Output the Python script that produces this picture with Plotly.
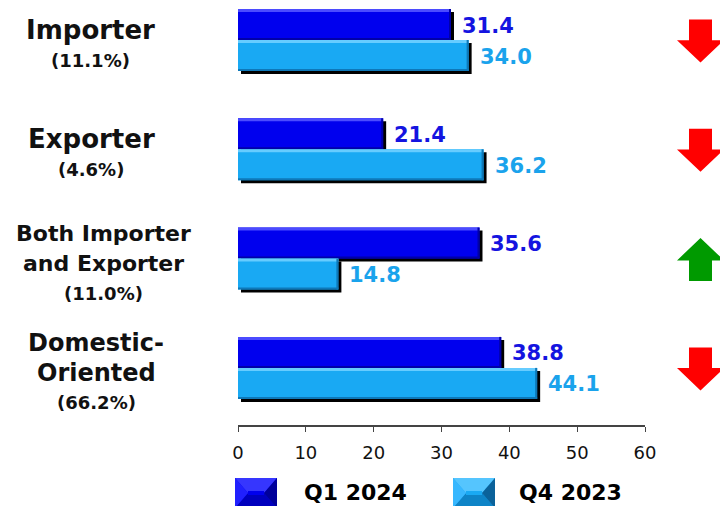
import plotly.graph_objects as go

# ---- data -------------------------------------------------------------
categories = ["Importer", "Exporter", "Both Importer and Exporter", "Domestic-Oriented"]
name_lines = [["Importer"], ["Exporter"], ["Both Importer", "and Exporter"], ["Domestic-", "Oriented"]]
shares = ["11.1%", "4.6%", "11.0%", "66.2%"]
q1_2024 = [31.4, 21.4, 35.6, 38.8]
q4_2023 = [34.0, 36.2, 14.8, 44.1]
series_names = ["Q1 2024", "Q4 2023"]
x_ticks = [0, 10, 20, 30, 40, 50, 60]

# ---- layout constants ---------------------------------------------------
W, H = 720, 506
PL, PR, PT, PB = 238, 645, 0, 425          # plot area in pixels
PPU = 109.3                                # pixels per category step
Y_TOP = -40 / PPU                          # first category sits 40 px below top
Y_BOT = Y_TOP + (PB - PT) / PPU
X_MAX = 60
XPPU = (PR - PL) / X_MAX                   # pixels per value unit
BAR_W = 31 / PPU
SHADOW_X = 3 / XPPU
SHADOW_Y = 3 / PPU
FONT = "DejaVu Sans"

styles = [
    dict(face="#0000EE", light="#4B4BFF", dark="#0000A8", label="#1414E0",
         tl="#3C3CFF", ll="#2424FF", rr="#000090", bb="#0000B8"),
    dict(face="#19A9F3", light="#66CCFF", dark="#0E78B8", label="#1AA3EC",
         tl="#5CC8FF", ll="#3BB8FF", rr="#0A5A90", bb="#0D80C2"),
]
offsets = [-BAR_W, 0.0]
values = [q1_2024, q4_2023]
idx = list(range(len(categories)))


def xp(px):
    return (px - PL) / (PR - PL)


def yp(py):
    return (PB - py) / (PB - PT)


def cat_px(i):
    return PT + (i - Y_TOP) * PPU


fig = go.Figure()

# drop shadows first, so the faces sit on top of them
for vals, off in zip(values, offsets):
    fig.add_trace(go.Bar(
        x=vals, y=idx, base=SHADOW_X, orientation="h", width=BAR_W,
        offset=off + SHADOW_Y, marker=dict(color="#000000", line=dict(width=0)),
        hoverinfo="skip", showlegend=False))

# bar faces with a bevelled edge
for vals, off, st, nm in zip(values, offsets, styles, series_names):
    fig.add_trace(go.Bar(
        x=vals, y=idx, orientation="h", width=BAR_W, offset=off, name=nm,
        marker=dict(color=st["face"], line=dict(width=0)), showlegend=False))
    fig.add_trace(go.Bar(
        x=vals, y=idx, orientation="h", width=3 / PPU, offset=off,
        marker=dict(color=st["light"], line=dict(width=0)),
        hoverinfo="skip", showlegend=False))
    fig.add_trace(go.Bar(
        x=vals, y=idx, orientation="h", width=2 / PPU, offset=off + BAR_W - 2 / PPU,
        marker=dict(color=st["dark"], line=dict(width=0)),
        hoverinfo="skip", showlegend=False))
    fig.add_trace(go.Bar(
        x=[2 / XPPU] * len(vals), y=idx, base=[v - 2 / XPPU for v in vals],
        orientation="h", width=BAR_W, offset=off,
        marker=dict(color=st["dark"], line=dict(width=0)),
        hoverinfo="skip", showlegend=False))

annotations = []
shapes = []

# value labels
for vals, off, st in zip(values, offsets, styles):
    for i, v in zip(idx, vals):
        annotations.append(dict(
            x=v, y=i + off + BAR_W / 2, xref="x", yref="y",
            text=f"<b>{v:.1f}</b>", showarrow=False, xanchor="left",
            yanchor="middle", xshift=9, yshift=-1,
            font=dict(family=FONT, size=21, color=st["label"])))

# category labels on the left
label_cx = [90, 91, 103, 96]
name_size = [26, 26, 22, 24]
for i in idx:
    lines = [(t, name_size[i]) for t in name_lines[i]] + [(f"({shares[i]})", 18)]
    k = len(lines)
    for j, (txt, sz) in enumerate(lines):
        dy = 5 + (j - (k - 1) / 2) * 30
        annotations.append(dict(
            x=xp(label_cx[i]), y=i, xref="paper", yref="y", text=f"<b>{txt}</b>",
            showarrow=False, xanchor="center", yanchor="middle", yshift=-dy,
            font=dict(family=FONT, size=sz, color="#111111")))

# change arrows on the right: up when Q1 2024 beats Q4 2023
AX = 700.5
for i in idx:
    cy = cat_px(i) + 1
    up = q1_2024[i] > q4_2023[i]
    s = -1 if up else 1
    pts = [
        (AX - 11.5, cy - s * 21.5), (AX + 11.5, cy - s * 21.5),
        (AX + 11.5, cy - s * 0.8), (AX + 23.5, cy - s * 0.8),
        (AX, cy + s * 21.5), (AX - 23.5, cy - s * 0.8),
        (AX - 11.5, cy - s * 0.8),
    ]
    path = "M " + " L ".join(f"{xp(x):.5f},{yp(y):.5f}" for x, y in pts) + " Z"
    shapes.append(dict(type="path", xref="paper", yref="paper", path=path,
                       fillcolor="#009A00" if up else "#FF0000",
                       line=dict(width=0), layer="above"))

# legend: bevelled swatches with bold captions
legend_items = [(235, 302, styles[0], series_names[0]), (453, 517, styles[1], series_names[1])]
for bx, tx, st, nm in legend_items:
    bw, bh, top = 42, 30, 478
    by = top
    mid = by + bh / 2
    d = 13
    corners = dict(
        tl=(bx, by), tr=(bx + bw, by), br=(bx + bw, by + bh), bl=(bx, by + bh))
    il, ir = (bx + d, mid), (bx + bw - d, mid)
    faces = [
        ("tl", [corners["tl"], corners["tr"], ir, il]),
        ("bb", [corners["bl"], il, ir, corners["br"]]),
        ("ll", [corners["tl"], il, corners["bl"]]),
        ("rr", [corners["tr"], corners["br"], ir]),
    ]
    shapes.append(dict(type="rect", xref="paper", yref="paper",
                       x0=xp(bx), x1=xp(bx + bw), y0=yp(by + bh), y1=yp(by),
                       fillcolor=st["face"], line=dict(width=0)))
    for key, poly in faces:
        path = "M " + " L ".join(f"{xp(x):.5f},{yp(y):.5f}" for x, y in poly) + " Z"
        shapes.append(dict(type="path", xref="paper", yref="paper", path=path,
                           fillcolor=st[key], line=dict(width=0), opacity=0.9))
    shapes.append(dict(type="rect", xref="paper", yref="paper",
                       x0=xp(bx + d), x1=xp(bx + bw - d), y0=yp(mid + 2), y1=yp(mid - 2),
                       fillcolor=st["face"], line=dict(width=0)))
    annotations.append(dict(
        x=xp(tx), y=yp(492), xref="paper", yref="paper", text=f"<b>{nm}</b>",
        showarrow=False, xanchor="left", yanchor="middle",
        font=dict(family=FONT, size=22, color="#000000")))

fig.update_layout(
    width=W, height=H,
    margin=dict(l=PL, r=W - PR, t=PT, b=H - PB, pad=0),
    paper_bgcolor="white", plot_bgcolor="white",
    barmode="overlay", showlegend=False,
    annotations=annotations, shapes=shapes,
    xaxis=dict(range=[0, X_MAX], tickvals=x_ticks, ticks="outside", ticklen=5,
               tickcolor="#444444", showline=True, linecolor="#444444", linewidth=1.5,
               showgrid=False, zeroline=False, ticklabelstandoff=6,
               tickfont=dict(family=FONT, size=18, color="#111111")),
    yaxis=dict(range=[Y_BOT, Y_TOP], visible=False, showgrid=False, zeroline=False),
)

fig.write_html("out.html")
